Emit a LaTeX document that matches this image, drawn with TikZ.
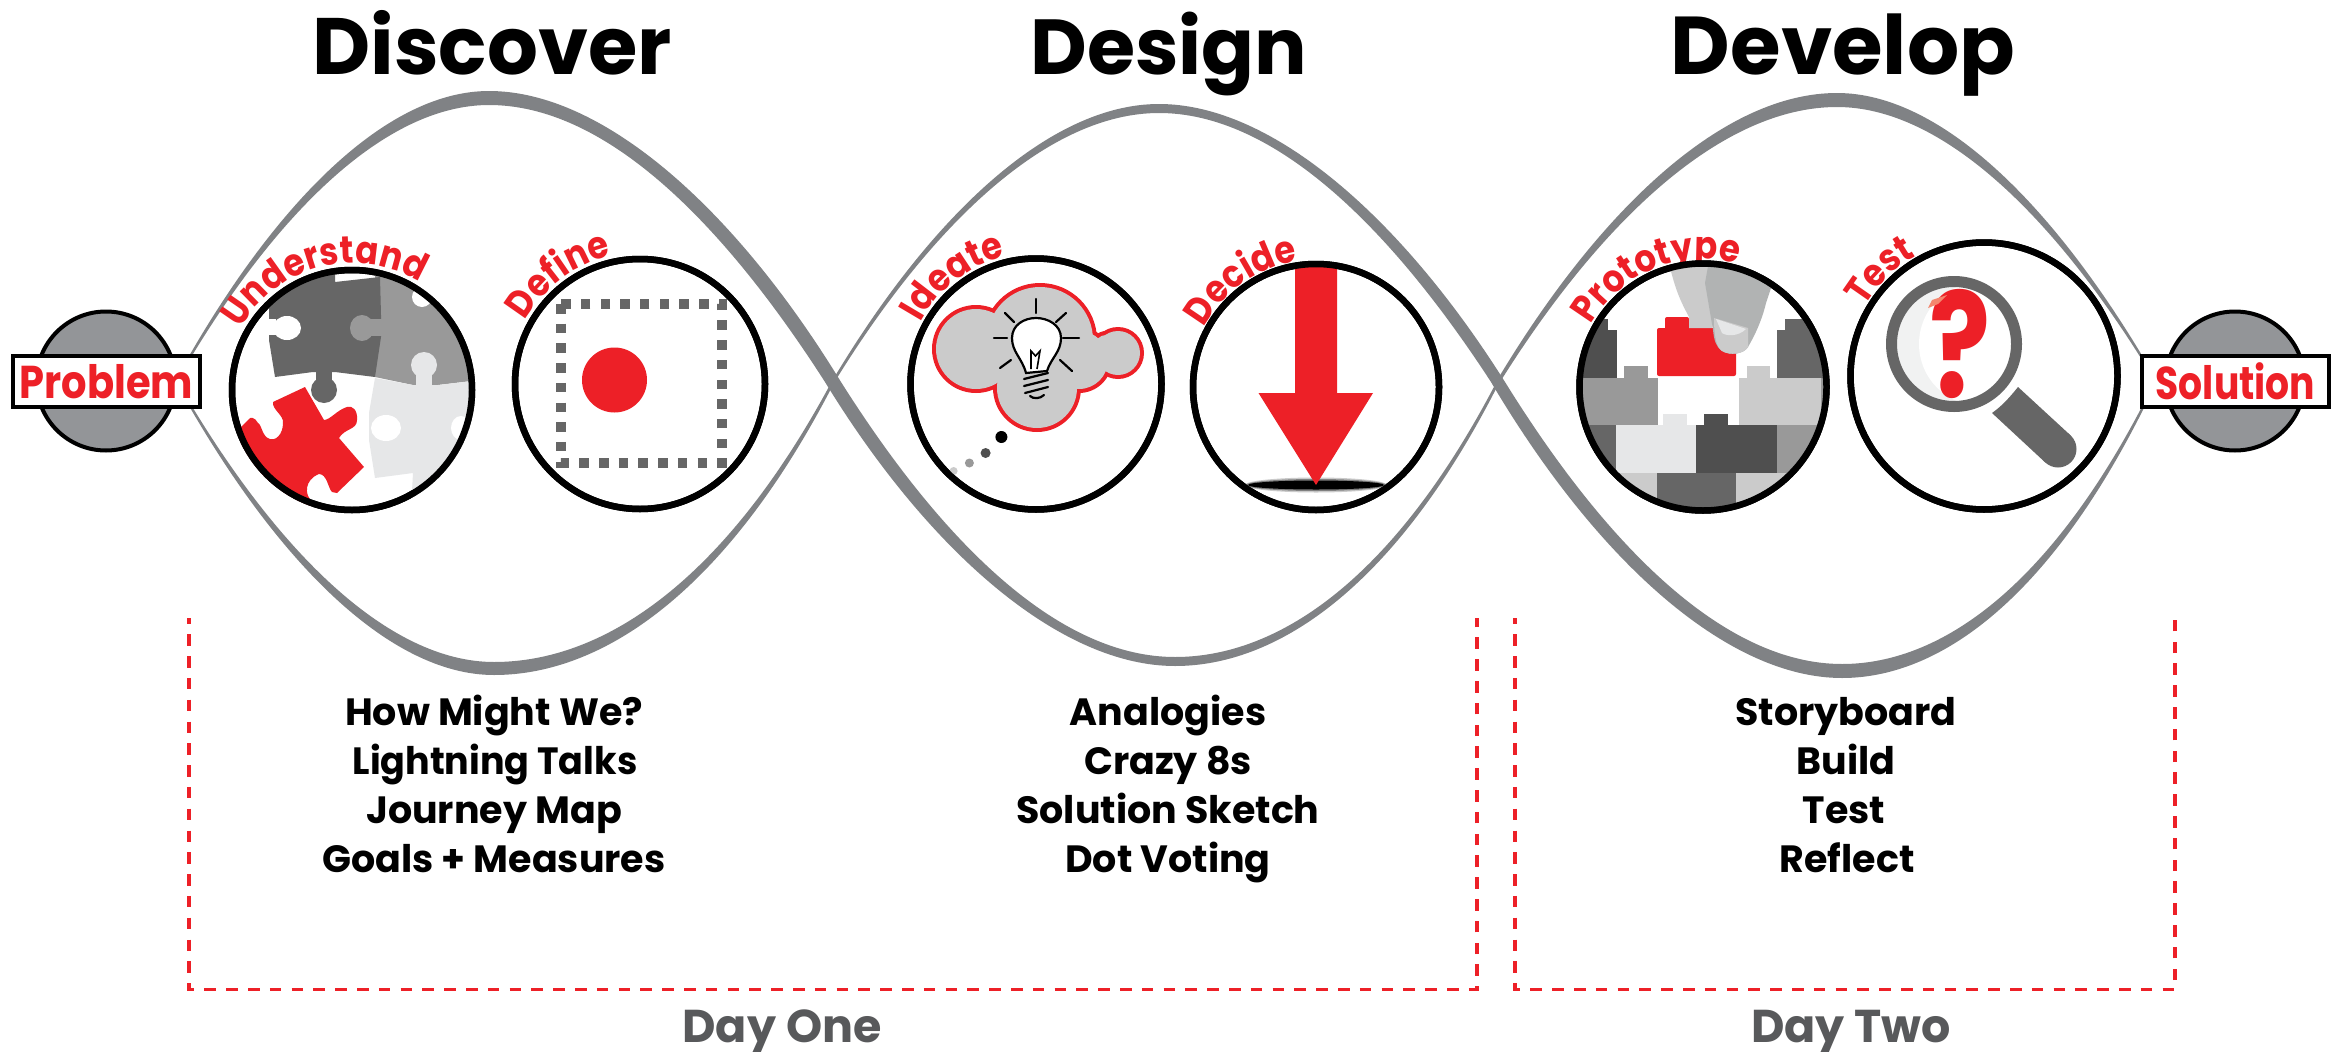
\documentclass[tikz,border=0pt]{standalone}
\usepackage{fontspec}
\usepackage{graphicx}
\setmainfont{Poppins}
\newfontfamily\lblfont{Poppins}[FakeStretch=0.89]
\usetikzlibrary{decorations.text}
\definecolor{brandred}{HTML}{ED2027}
\definecolor{strandgray}{HTML}{808285}
\definecolor{discgray}{HTML}{939598}
\definecolor{daygray}{HTML}{58595B}
\definecolor{g1}{HTML}{4F4F4F}
\definecolor{g2}{HTML}{666666}
\definecolor{g3}{HTML}{999999}
\definecolor{g4}{HTML}{CBCBCB}
\definecolor{g5}{HTML}{E6E7E8}
\definecolor{fingergray}{HTML}{B1B3B3}
\definecolor{lensgray}{HTML}{F1F2F2}
\definecolor{accent}{HTML}{F4866E}
\tikzset{
  strand/.style={fill=strandgray},
  ring/.style={circle,draw=black,line width=6.5pt,fill=white,inner sep=0pt,outer sep=0pt},
  ringline/.style={circle,draw=black,line width=6.5pt,inner sep=0pt,outer sep=0pt},
  disc/.style={circle,draw=black,line width=4pt,fill=discgray,inner sep=0pt,minimum size=139pt},
  endbox/.style={draw=black,line width=4pt,fill=white,inner sep=0pt,minimum width=187pt,minimum height=51pt,text=brandred,font=\fontsize{46}{46}\selectfont\bfseries},
  title/.style={anchor=base,inner sep=0pt,font=\fontsize{80}{80}\selectfont\bfseries},
  item/.style={anchor=base,inner sep=0pt,font=\fontsize{38}{38}\selectfont\bfseries},
  day/.style={anchor=base,inner sep=0pt,text=daygray,font=\fontsize{46}{46}\selectfont\bfseries},
  bracket/.style={draw=brandred,line width=3.8pt,dash pattern=on 11.5pt off 10.3pt,dash phase=5.5pt},
  bulbline/.style={draw=black,line width=2.2pt,line cap=round},
}
\newcommand\kL{.61}\newcommand\kR{.6}
\newcommand\lobe[9]{%
 \fill[strand] ({#1-#3},#2) .. controls ({#1-#3+.31*(#4-#1)},{#2+\kL*(#5-#2)}) and ({#4-.33*(#4-#1)},#5) .. (#4,#5)
  .. controls ({#4+.33*(#7-#4)},#5) and ({#7+#9-.31*(#7-#4)},{#8+\kR*(#5-#8)}) .. ({#7+#9},#8)
  -- ({#7-#9},#8) .. controls ({#7-#9-.31*(#7-#4)},{#8+\kR*(#6-#8)}) and ({#4+.33*(#7-#4)},#6) .. (#4,#6)
  .. controls ({#4-.33*(#4-#1)},#6) and ({#1+#3+.31*(#4-#1)},{#2+\kL*(#6-#2)}) .. ({#1+#3},#2) -- cycle;}
\newcommand\arclabel[6]{%
 \path[decorate,decoration={text along path,
   text={|\lblfont\fontsize{38}{38}\selectfont\bfseries\color{brandred}|#6}}]
   plot[domain=#4:#5,samples=60] ({#1+#3*cos(\x)},{#2-#3*sin(\x)});}
\begin{document}
\begin{tikzpicture}[x=1pt,y=-1pt]
\useasboundingbox (0,0) rectangle (2346,1052);
\fill[white] (0,0) rectangle (2346,1052);
% strands
\renewcommand\kL{.61}\renewcommand\kR{.6}
\lobe{176}{381}{1}{489}{91}{105}{833}{382}{8}
\lobe{833}{382}{1.5}{1159}{104}{113}{1498}{382}{7}
\lobe{1498}{382}{2}{1837}{93}{107}{2156}{381}{1}
\renewcommand\kL{.61}\renewcommand\kR{.7}
\lobe{176}{381}{1}{494}{675}{662}{833}{382}{1.5}
\lobe{833}{382}{8}{1175}{666}{657}{1498}{382}{1.5}
\lobe{1498}{382}{7}{1842}{678}{664}{2156}{381}{1}
% arc labels
\arclabel{352}{390}{127}{151}{20}{Understand}
\arclabel{640}{384}{131}{151}{50}{Define}
\arclabel{1036}{384}{131}{152}{50}{Ideate}
\arclabel{1316}{387}{127}{152}{50}{Decide}
\arclabel{1703}{387}{128}{151}{30}{Prototype}
\arclabel{1984}{376}{138}{150}{70}{Test}
% circles
\node[ring,minimum size=240pt] (cUnderstand) at (352,390) {};
\node[ring,minimum size=250pt] (cDefine) at (640,384) {};
\node[ring,minimum size=251pt] (cIdeate) at (1036,384) {};
\node[ring,minimum size=246pt] (cDecide) at (1316,387) {};
\node[ring,minimum size=247pt] (cPrototype) at (1703,387) {};
\node[ring,minimum size=267pt] (cTest) at (1984,376) {};
% puzzle
\begin{scope}
\clip (352,390) circle (123);
\fill[g3] (375,265) -- (480,265) -- (480,380) -- (438,385) -- (413,385) -- (375,377) -- cycle;
\fill[white] (422,297) ellipse (10 and 10);
\fill[g5] (375,378) -- (413,385) -- (438,385) -- (480,380) -- (480,510) -- (411,510) -- (413,473) -- (375,478) -- (369,440) -- (369,413) -- cycle;
\fill[g5] (424,365) ellipse (13 and 13);
\fill[g5] (416,365) rectangle (432,386);
\fill[white] (386,428) ellipse (15 and 13);
\fill[white] (461,428) ellipse (10 and 12);
\fill[g2] (269,260) -- (335,260) -- (335,282) -- (380,277) -- (381,315) -- (381,337) -- (375,377) -- (335,372) -- (313,372) -- (275,377) -- (269,340) -- cycle;
\fill[g3] (362,328) ellipse (12 and 13);
\fill[g3] (366,319) rectangle (382,336);
\fill[white] (287,328) ellipse (14 and 12);
\fill[white] (262,319) rectangle (276,335);
\fill[g2] (324,390) ellipse (13 and 13);
\fill[g2] (316,368) rectangle (332,390);
\fill[brandred] (305,387) -- (273,402) .. controls (272,410) and (284,415) .. (283,423) .. controls (283,435) and (275,441) .. (270,439) .. controls (262,437) and (262,425) .. (258,423) .. controls (255,417) and (250,417) .. (249,419) -- (240,428) -- (240,510) -- (311,510) -- (311,500) .. controls (305,495) and (304,480) .. (319,474) .. controls (327,474) and (328,488) .. (332,492) -- (337,493) -- (364,467) -- (339,438) .. controls (345,428) and (357,430) .. (357,420) .. controls (358,410) and (352,405) .. (347,407) .. controls (337,410) and (330,420) .. (324,420) -- cycle;
\end{scope}
% define
\draw[draw=g2,line width=9.5pt,dash pattern=on 9.5pt off 10.2pt] (561,304) rectangle (722,463);
\fill[brandred] (614.5,380) circle (32.5);
% cloud
\foreach \cx/\cy/\cr in {1040/340/54,976/349/41,1037/388/41,1079/360/30,1118/353/23,1106/346/12}{
  \fill[brandred] (\cx,\cy) circle ({\cr+3});}
\foreach \cx/\cy/\cr in {1040/340/54,976/349/41,1037/388/41,1079/360/30,1118/353/23,1106/346/12}{
  \fill[g4] (\cx,\cy) circle ({\cr-1});}
\fill[g4] (985,345) rectangle (1100,372);
\filldraw[fill=white,bulbline] (1026,373) .. controls (1022,358) and (1012,352) .. (1012,338) .. controls (1012,325) and (1024,318) .. (1036,318) .. controls (1048,318) and (1061,325) .. (1061,338) .. controls (1061,352) and (1051,358) .. (1047,371) -- cycle;
\draw[bulbline] (1036,299) -- (1036,313);
\draw[bulbline] (1005,313) -- (1014,322);
\draw[bulbline] (1066,313) -- (1056,322);
\draw[bulbline] (994,338) -- (1007,338);
\draw[bulbline] (1063,338) -- (1079,338);
\draw[bulbline] (1000,368) -- (1011,360);
\draw[bulbline] (1072,371) -- (1060,360);
\draw[bulbline] (1024,379) -- (1048,373);
\draw[bulbline] (1024,386) -- (1048,380);
\draw[bulbline] (1025,393) -- (1048,387);
\draw[bulbline] (1030,396) .. controls (1033,399) and (1040,399) .. (1044,395);
\draw[draw=black,line width=1.6pt] (1031,369) -- (1031,351) -- (1035.5,356) -- (1040,351) -- (1037,369);
\fill[black] (1001.4,437) circle (6);
\fill[g1] (985.6,453) circle (5);
\fill[g3] (969.4,463) circle (4.5);
\fill[g4] (953.6,471) circle (4);
% decide
\begin{scope}
\clip (1316,387) circle (123);
\fill[g4] (1316,485) ellipse (71 and 7.5);
\fill[gray] (1316,485) ellipse (70 and 6);
\fill[black] (1316,485) ellipse (68 and 4.5);
\fill[brandred] (1295,260) -- (1337,260) -- (1337,393) -- (1373,393) -- (1316,485) -- (1258.5,393) -- (1295,393) -- cycle;
\end{scope}
% prototype
\begin{scope}
\clip (1703,387) circle (124);
\fill[g1] (1560,330) rectangle (1617,378); \fill[g1] (1596,319) rectangle (1608,330);
\fill[g2] (1777,330) rectangle (1850,378); \fill[g2] (1785,319) rectangle (1810,330);
\fill[g3] (1560,378) rectangle (1658,425); \fill[g3] (1624,366) rectangle (1648,378);
\fill[g4] (1739,378) rectangle (1821,425); \fill[g4] (1747,366) rectangle (1770,378);
\fill[g3] (1821,378) rectangle (1850,425);
\fill[g2] (1560,425) rectangle (1616,473);
\fill[g5] (1616,425) rectangle (1696,473); \fill[g5] (1663,414) rectangle (1687,425);
\fill[g1] (1696,425) rectangle (1777,473); \fill[g1] (1704,414) rectangle (1728,425);
\fill[g3] (1777,425) rectangle (1850,473);
\fill[g4] (1560,473) rectangle (1657,530);
\fill[g2] (1657,473) rectangle (1736,530);
\fill[g4] (1736,473) rectangle (1850,530);
\fill[brandred,rounded corners=2pt] (1657,328) rectangle (1736,376);
\fill[brandred,rounded corners=2pt] (1665,317) rectangle (1689,332);
\fill[brandred,rounded corners=2pt] (1704,317) rectangle (1712,332);
\fill[g4] (1667,255) -- (1712,255) -- (1712,328) -- (1689,328) -- (1689,317) .. controls (1680,300) and (1675,290) .. cycle;
\fill[fingergray] (1710,255) -- (1780,255) -- (1771,288) -- (1766,303) .. controls (1762,320) and (1755,335) .. (1748,347) .. controls (1744,354) and (1730,356) .. (1722,351) .. controls (1716,347) and (1714,340) .. (1713,330) -- (1705,283) -- cycle;
\fill[g4] (1714,318) -- (1748,328) -- (1748,347) .. controls (1744,354) and (1730,356) .. (1722,351) .. controls (1716,347) and (1714,335) .. cycle;
\fill[g5] (1716,319) -- (1746,329) .. controls (1738,337) and (1726,336) .. (1722,333) -- cycle;
\end{scope}
% test
\begin{scope}
\clip (1954,344) circle (60);
\fill[lensgray] (1954,344) circle (60);
\fill[white] (1981,344) circle (62);
\end{scope}
\draw[draw=g2,line width=11pt] (1954,344) circle (62.5);
\fill[g2] (2018,387) .. controls (2010,397) and (2002,406) .. (1992,413) -- (2045.3,462.5) -- (2070.7,435.5) -- cycle;
\fill[g2] (2058,449) circle (18.5);
\node[anchor=base,inner sep=0pt,text=brandred,font=\fontsize{146}{146}\selectfont\bfseries] (qmark) at (1960,397) {\scalebox{.78}[1]{?}};
\fill[accent] (1928,308) -- (1932,300) -- (1947,295) -- (1938,304) -- cycle;
% rings on top
\foreach \n/\px/\py/\s in {u/352/390/240,d/640/384/250,i/1036/384/251,c/1316/387/246,p/1703/387/247,t/1984/376/267}{
  \node[ringline,minimum size=\s pt] (r\n) at (\px,\py) {};}
% end discs
\node[disc] (discA) at (106,381) {};
\node[endbox] (problem) at (106.5,381.5) {\scalebox{.87}[1]{Problem}};
\node[disc] (discB) at (2235,381) {};
\node[endbox] (solution) at (2235.5,381.5) {\scalebox{.82}[1]{Solution}};
% titles
\node[title] (tDiscover) at (492,74) {Discover};
\node[title,font=\fontsize{78}{78}\selectfont\bfseries] (tDesign) at (1169,74) {Design};
\node[title,font=\fontsize{82}{82}\selectfont\bfseries] (tDevelop) at (1843,74) {Develop};
% lists
\node[item] (a1) at (494,725) {How Might We?};
\node[item] (a2) at (495,774) {\scalebox{.96}[1]{Lightning Talks}};
\node[item] (a3) at (494,823) {Journey Map};
\node[item] (a4) at (494,872) {Goals + Measures};
\node[item] (b1) at (1168,725) {Analogies};
\node[item] (b2) at (1168,774) {Crazy 8s};
\node[item] (b3) at (1168,823) {Solution Sketch};
\node[item] (b4) at (1168,872) {Dot Voting};
\node[item] (c1) at (1846,725) {Storyboard};
\node[item] (c2) at (1846,774) {Build};
\node[item] (c3) at (1844,823) {Test};
\node[item] (c4) at (1847,872) {Reflect};
% brackets
\coordinate (b1a) at (189,618); \coordinate (b1b) at (189,989.5); \coordinate (b1c) at (1477,989.5); \coordinate (b1d) at (1477,618);
\coordinate (b2a) at (1515,618); \coordinate (b2b) at (1515,989.5); \coordinate (b2c) at (2175,989.5); \coordinate (b2d) at (2175,618);
\draw[bracket] (b1a) -- (b1b) -- (b1c) -- (b1d);
\draw[bracket] (b2a) -- (b2b) -- (b2c) -- (b2d);
\node[day] (dayOne) at (782,1042) {Day One};
\node[day] (dayTwo) at (1851,1042) {Day Two};
\end{tikzpicture}
\end{document}
